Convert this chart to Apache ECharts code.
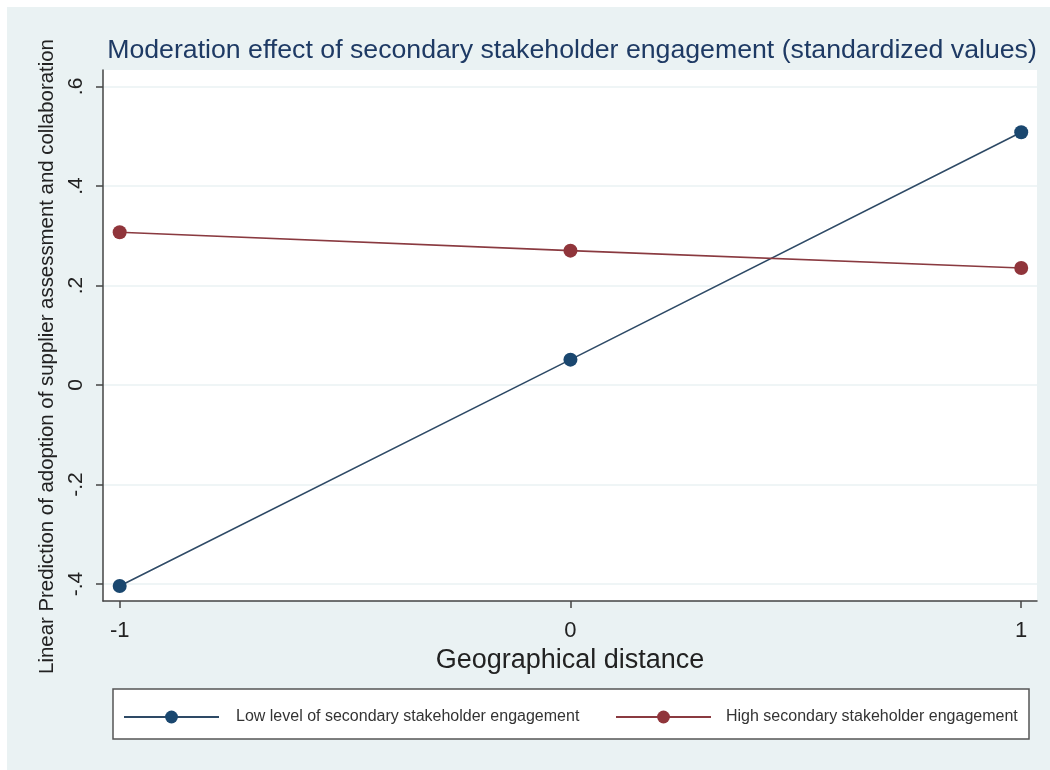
<!DOCTYPE html>
<html>
<head>
<meta charset="utf-8">
<script src="https://cdn.jsdelivr.net/npm/echarts@6/dist/echarts.min.js"></script>
<style>
  html, body { margin: 0; padding: 0; background: #fff; }
  #chart { width: 1050px; height: 770px; }
</style>
</head>
<body>
<div id="chart"></div>
<script>
// values
const xValues = [-1, 0, 1];
const lowEngagement = [-0.404, 0.051, 0.508];
const highEngagement = [0.307, 0.270, 0.235];
const yTicks = [-0.4, -0.2, 0, 0.2, 0.4, 0.6];
const yTickLabels = ['-.4', '-.2', '0', '.2', '.4', '.6'];
const xTicks = [-1, 0, 1];
const seriesNames = ['Low level of secondary stakeholder engagement', 'High secondary stakeholder engagement'];

const navy = '#1a476f';
const maroon = '#90353b';
const font = 'Liberation Sans, Arial, sans-serif';

const chart = echarts.init(document.getElementById('chart'));

const pairs = (ys) => xValues.map((x, i) => [x, ys[i]]);

chart.setOption({
  animation: false,
  textStyle: { fontFamily: font },
  graphic: [
    // stata style outer background
    { type: 'rect', z: -10, shape: { x: 7, y: 7, width: 1043, height: 763 }, style: { fill: '#eaf2f3' } },
    // legend box
    { type: 'rect', z: 1, shape: { x: 113, y: 689, width: 916, height: 50 }, style: { fill: '#fff', stroke: '#555', lineWidth: 1.5 } }
  ],
  title: {
    text: 'Moderation effect of secondary stakeholder engagement (standardized values)',
    left: 567, textAlign: 'center', top: 32,
    textStyle: { color: '#1e3a64', fontSize: 26.7, fontWeight: 'normal', fontFamily: font }
  },
  legend: [
    {
      data: [seriesNames[0]], left: 118, top: 704, z: 5,
      itemWidth: 95, itemHeight: 16,
      textStyle: { fontSize: 16, color: '#333', padding: [0, 0, 0, 12] }
    },
    {
      data: [seriesNames[1]], left: 610, top: 704, z: 5,
      itemWidth: 95, itemHeight: 16,
      textStyle: { fontSize: 16, color: '#333', padding: [0, 0, 0, 10] }
    }
  ],
  grid: {
    left: 103, right: 13, top: 70, bottom: 169,
    show: true, backgroundColor: '#fff', borderWidth: 0
  },
  xAxis: {
    type: 'value', min: -1.037, max: 1.035,
    name: 'Geographical distance', nameLocation: 'middle', nameGap: 46,
    nameTextStyle: { fontSize: 27, color: '#222' },
    axisLine: { show: true, onZero: false, lineStyle: { color: '#444', width: 1.5 } },
    axisTick: { show: true, length: 7, customValues: xTicks, lineStyle: { color: '#444', width: 1.5 } },
    axisLabel: { customValues: xTicks, fontSize: 22, color: '#222', margin: 19 },
    splitLine: { show: false }
  },
  yAxis: {
    type: 'value', min: -0.434, max: 0.633,
    name: 'Linear Prediction of adoption of supplier assessment and collaboration',
    nameLocation: 'middle', nameGap: 46, nameRotate: 90,
    nameTextStyle: { fontSize: 20.4, color: '#222', padding: [0, 42, 0, 0] },
    axisLine: { show: true, onZero: false, lineStyle: { color: '#444', width: 1.5 } },
    axisTick: { show: true, length: 7, customValues: yTicks, lineStyle: { color: '#444', width: 1.5 } },
    axisLabel: {
      customValues: yTicks, rotate: 90, fontSize: 21, color: '#222', margin: 16,
      formatter: (v) => yTickLabels[yTicks.findIndex(t => Math.abs(t - v) < 1e-9)]
    },
    splitLine: { show: true, lineStyle: { color: '#eaf2f3', width: 1.5 } }
  },
  series: [
    {
      name: seriesNames[0], type: 'line', data: pairs(lowEngagement),
      symbol: 'circle', symbolSize: 14,
      itemStyle: { color: navy },
      lineStyle: { color: '#2e4a66', width: 1.6 }
    },
    {
      name: seriesNames[1], type: 'line', data: pairs(highEngagement),
      symbol: 'circle', symbolSize: 14,
      itemStyle: { color: maroon },
      lineStyle: { color: '#8a3a40', width: 1.6 }
    }
  ]
});
</script>
</body>
</html>
